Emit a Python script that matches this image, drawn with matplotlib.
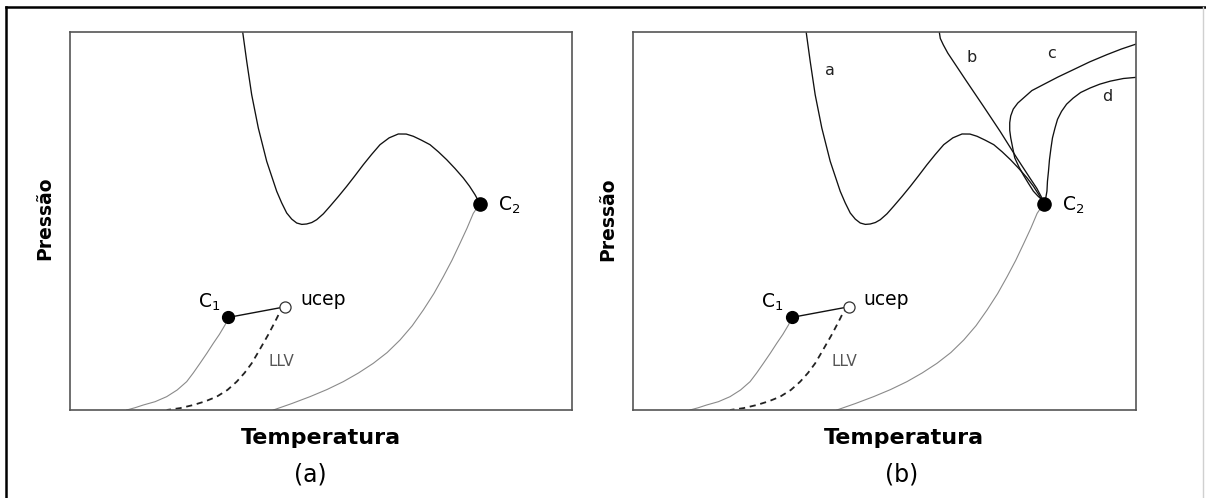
import matplotlib
matplotlib.use("Agg")
import matplotlib.pyplot as plt
from matplotlib.lines import Line2D

W, H = 1206, 498
plt.rcParams["font.family"] = ["DejaVu Sans"]
plt.rcParams["mathtext.fontset"] = "dejavusans"

# --- phase-diagram curves (temperature, pressure), both axes on a 0-100 scale ---
main_T = [34.44, 35.24, 36.23, 37.55, 39.22, 41.21, 42.2, 43.20, 44.2, 45.19, 46.2,
          47.18, 48.2, 49.17, 50.5, 51.82, 53.5, 55.15, 56.8, 58.45, 60.1, 61.78,
          63.6, 65.42, 67.0, 68.41, 70.0, 71.73, 73.4, 75.05, 76.7, 78.36, 79.6,
          80.69, 81.7]
main_P = [100.0, 92.25, 83.41, 74.60, 65.79, 57.86, 54.8, 52.12, 50.5, 49.47, 49.1,
          49.21, 49.6, 50.34, 51.9, 53.89, 56.5, 59.18, 62.0, 64.89, 67.6, 70.19,
          72.0, 73.02, 73.0, 72.41, 71.4, 70.19, 68.3, 66.22, 63.9, 61.38, 59.2,
          56.96, 54.5]

c2_T = [81.7, 81.0, 80.35, 79.1, 77.70, 76.1, 74.38, 72.5, 70.40, 68.2, 65.76,
        63.2, 60.44, 57.5, 54.47, 51.2, 47.84, 44.2, 40.54]
c2_P = [54.5, 53.3, 52.03, 48.1, 44.09, 39.6, 35.27, 30.8, 26.46, 22.3, 18.52,
        15.2, 12.35, 9.8, 7.50, 5.4, 3.53, 1.7, 0.0]

c1_T = [31.6, 30.92, 29.8, 28.59, 27.3, 25.94, 24.6, 23.29, 21.4, 19.31, 17.0,
        14.65, 13.0, 11.35]
c1_P = [24.5, 22.49, 20.0, 17.64, 15.0, 12.35, 9.8, 7.50, 5.3, 3.53, 2.2,
        1.32, 0.6, 0.0]

llv_T = [42.9, 41.87, 41.2, 40.54, 39.6, 38.54, 37.4, 36.23, 34.8, 33.25, 31.4,
         29.27, 27.0, 24.61, 22.0, 19.31]
llv_P = [27.3, 26.0, 24.2, 22.49, 20.1, 17.64, 15.0, 12.35, 9.8, 7.50, 5.3,
         3.53, 2.3, 1.32, 0.5, 0.0]

crit_C1 = (31.6, 24.5)
crit_C2 = (81.7, 54.5)
ucep = (42.9, 27.3)

# extra critical curves of panel (b)
b_T = [60.9, 61.1, 61.7, 62.6, 63.7, 66.3, 69.7, 73.0, 76.3, 78.9, 80.3, 81.3, 81.7]
b_P = [100.0, 98.3, 96.6, 94.4, 92.2, 87.0, 80.3, 73.7, 66.7, 61.4, 58.6, 56.1, 54.5]

c_T = [100.0, 97.1, 94.2, 90.8, 87.5, 84.5, 81.6, 79.3, 77.6, 76.5, 75.6, 75.1,
       74.9, 74.9, 75.1, 75.5, 75.9, 76.7, 77.6, 78.6, 79.6, 80.5, 81.3, 81.7]
c_P = [96.8, 95.5, 94.0, 92.1, 90.0, 88.1, 86.1, 84.5, 82.5, 81.2, 79.6, 77.8,
       76.0, 74.0, 72.0, 69.3, 66.7, 64.4, 62.2, 60.0, 57.9, 56.6, 55.6, 54.5]

d_T = [100.0, 97.5, 94.9, 92.8, 90.9, 89.0, 87.5, 86.2, 85.2, 84.4, 83.9, 83.4,
       83.1, 82.8, 82.6, 82.4, 82.3, 82.0, 81.7]
d_P = [88.0, 87.7, 87.0, 86.2, 85.2, 84.0, 82.5, 80.9, 79.0, 76.9, 74.6, 72.0,
       69.3, 66.2, 63.1, 60.5, 57.9, 55.6, 54.5]

curve_labels = ["a", "b", "c", "d"]
curve_label_pos = [(39.2, 89.8), (67.3, 93.3), (83.2, 94.4), (94.2, 83.0)]

panel_names = ["(a)", "(b)"]
xlabel = "Temperatura"
ylabel = "Pressão"

fig = plt.figure(figsize=(W / 100, H / 100), dpi=100)
fig.patch.set_facecolor("white")


def px(x, y):
    return x / W, 1 - y / H


# outer border of the figure
fig.add_artist(Line2D([6 / W, 6 / W], [0, 1 - 7 / H], transform=fig.transFigure,
                      color="black", lw=1.8))
fig.add_artist(Line2D([6 / W, 1], [1 - 7 / H, 1 - 7 / H], transform=fig.transFigure,
                      color="black", lw=1.8))
fig.add_artist(Line2D([1203 / W, 1203 / W], [0, 1 - 7 / H], transform=fig.transFigure,
                      color="#d0d0d0", lw=1.0))

axes_px = [(69.7, 572.0), (632.9, 1136.0)]
top_px, bot_px = 32.0, 410.0

xlabel_px = [(320.5, 438), (904, 438)]
name_px = [(310, 474), (902, 474)]
ylabel_px = [(45, 218), (608, 219)]

curve_kw = dict(color="#111111", lw=0.95, solid_joinstyle="round", solid_capstyle="round")
gray_kw = dict(color="#8a8a8a", lw=0.8, solid_joinstyle="round")

for i, (l, r) in enumerate(axes_px):
    ax = fig.add_axes([l / W, 1 - bot_px / H, (r - l) / W, (bot_px - top_px) / H])
    ax.set_xlim(0, 100)
    ax.set_ylim(0, 100)
    ax.set_xticks([])
    ax.set_yticks([])
    for s in ax.spines.values():
        s.set_color("#555555")
        s.set_linewidth(1.2)

    ax.plot(main_T, main_P, **curve_kw)
    ax.plot(c2_T, c2_P, **gray_kw)
    ax.plot(c1_T, c1_P, **gray_kw)
    ax.plot(llv_T, llv_P, color="#222222", lw=1.3, linestyle=(0, (3.4, 2.6)))
    ax.plot([crit_C1[0], ucep[0]], [crit_C1[1], ucep[1]], color="#111111", lw=1.0)

    if i == 1:
        ax.plot(b_T, b_P, **curve_kw)
        ax.plot(c_T, c_P, **curve_kw)
        ax.plot(d_T, d_P, **curve_kw)
        for lab, (lx, ly) in zip(curve_labels, curve_label_pos):
            ax.text(lx, ly, lab, fontsize=11.5, ha="center", va="center", color="#222222")

    ax.plot(*crit_C1, "o", color="black", ms=8.5, zorder=5)
    ax.plot(*crit_C2, "o", color="black", ms=9.5, zorder=5)
    ax.plot(*ucep, "o", mfc="white", mec="#333333", mew=0.9, ms=8, zorder=5)

    ax.text(27.7, 28.6, "C$_1$", fontsize=13.5, ha="center", va="center")
    ax.text(85.3, 54.2, "C$_2$", fontsize=13.5, ha="left", va="center")
    ax.text(45.9, 29.3, "ucep", fontsize=13.5, ha="left", va="center")
    ax.text(42.1, 12.8, "LLV", fontsize=11, ha="center", va="center", color="#555555")

    fig.text(*px(*xlabel_px[i]), xlabel, fontsize=16, fontweight="bold",
             ha="center", va="center")
    fig.text(*px(*name_px[i]), panel_names[i], fontsize=17, ha="center", va="center")
    fig.text(*px(*ylabel_px[i]), ylabel, fontsize=13.5, fontweight="bold",
             ha="center", va="center", rotation=90)

fig.savefig("out.png", dpi=100, facecolor="white")
